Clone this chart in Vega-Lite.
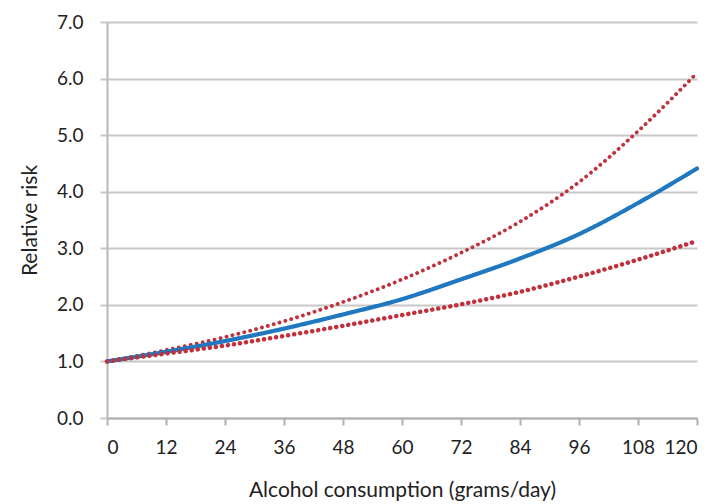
{
  "$schema": "https://vega.github.io/schema/vega-lite/v6.json",
  "width": 590,
  "height": 396,
  "autosize": {"type": "none"},
  "padding": {"left": 107, "top": 22, "right": 16, "bottom": 86},
  "background": "white",
  "config": {
    "view": {"stroke": null},
    "font": "Lato",
    "axis": {"labelFont": "Lato", "titleFont": "Lato", "labelColor": "#222", "titleColor": "#222", "titleFontWeight": "normal"}
  },
  "data": {
    "values": [
      {"x": 0, "s": "upper", "v": 1.0}, {"x": 12, "s": "upper", "v": 1.2}, {"x": 24, "s": "upper", "v": 1.43}, {"x": 36, "s": "upper", "v": 1.71}, {"x": 48, "s": "upper", "v": 2.05}, {"x": 60, "s": "upper", "v": 2.45}, {"x": 72, "s": "upper", "v": 2.92}, {"x": 84, "s": "upper", "v": 3.47}, {"x": 96, "s": "upper", "v": 4.17}, {"x": 108, "s": "upper", "v": 5.07}, {"x": 120, "s": "upper", "v": 6.1},
      {"x": 0, "s": "central", "v": 1.0}, {"x": 12, "s": "central", "v": 1.17}, {"x": 24, "s": "central", "v": 1.36}, {"x": 36, "s": "central", "v": 1.58}, {"x": 48, "s": "central", "v": 1.83}, {"x": 60, "s": "central", "v": 2.1}, {"x": 72, "s": "central", "v": 2.45}, {"x": 84, "s": "central", "v": 2.82}, {"x": 96, "s": "central", "v": 3.25}, {"x": 108, "s": "central", "v": 3.8}, {"x": 120, "s": "central", "v": 4.41},
      {"x": 0, "s": "lower", "v": 1.0}, {"x": 12, "s": "lower", "v": 1.14}, {"x": 24, "s": "lower", "v": 1.28}, {"x": 36, "s": "lower", "v": 1.45}, {"x": 48, "s": "lower", "v": 1.63}, {"x": 60, "s": "lower", "v": 1.82}, {"x": 72, "s": "lower", "v": 2.01}, {"x": 84, "s": "lower", "v": 2.23}, {"x": 96, "s": "lower", "v": 2.5}, {"x": 108, "s": "lower", "v": 2.8}, {"x": 120, "s": "lower", "v": 3.13}
    ]
  },
  "mark": {"type": "line", "interpolate": "monotone", "strokeCap": "round"},
  "encoding": {
    "x": {
      "field": "x", "type": "quantitative",
      "scale": {"domain": [0, 120], "nice": false},
      "axis": {
        "values": [0, 12, 24, 36, 48, 60, 72, 84, 96, 108, 120],
        "grid": false, "domainColor": "#b0b0b0", "domainWidth": 2, "tickColor": "#b0b0b0", "tickWidth": 2, "tickSize": 7,
        "labelFontSize": 19, "labelPadding": 13, "title": "Alcohol consumption (grams/day)", "titleFontSize": 21, "titlePadding": 22
      }
    },
    "y": {
      "field": "v", "type": "quantitative",
      "scale": {"domain": [0, 7], "nice": false},
      "axis": {
        "values": [0, 1, 2, 3, 4, 5, 6, 7], "format": ".1f",
        "grid": true, "gridColor": "#c8c8c8", "gridWidth": 2,
        "domainColor": "#b8b8b8", "domainWidth": 2, "tickColor": "#c8c8c8", "tickWidth": 2, "tickSize": 7,
        "labelFontSize": 19, "labelPadding": 17, "title": "Relative risk", "titleFontSize": 21, "titlePadding": 16
      }
    },
    "color": {
      "field": "s", "type": "nominal", "legend": null,
      "scale": {"domain": ["upper", "central", "lower"], "range": ["#c0313c", "#1f78c0", "#c0313c"]}
    },
    "strokeDash": {
      "field": "s", "type": "nominal", "legend": null,
      "scale": {"domain": ["upper", "central", "lower"], "range": [[0.1, 6], [1, 0], [0.1, 6]]}
    },
    "strokeWidth": {
      "field": "s", "type": "nominal", "legend": null,
      "scale": {"domain": ["upper", "central", "lower"], "range": [3.8, 4.5, 3.8]}
    }
  }
}
